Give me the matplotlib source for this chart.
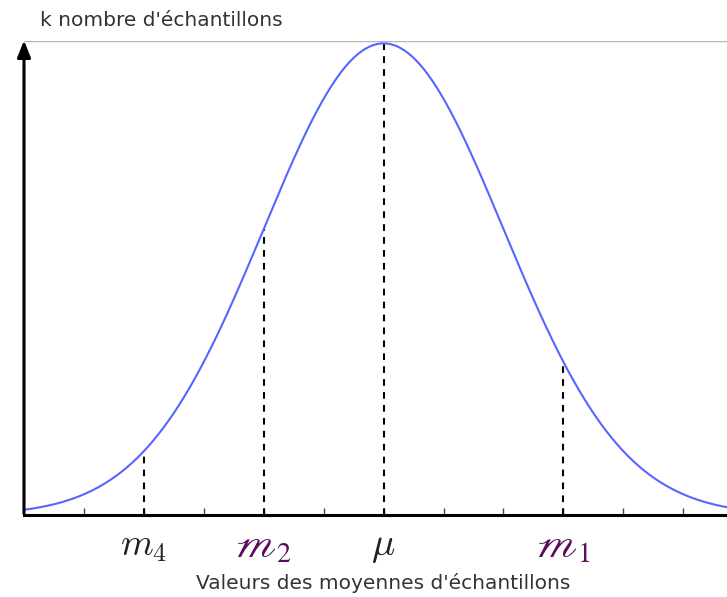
import numpy as np
import matplotlib.pyplot as plt

# distribution of sample means (units: one tick = 1)
mu = 0.0
sigma = 2.0
x_min, x_max = -6.0, 5.73

mark_pos = [-4, -2, 0, 3]
mark_labels = [r'$m_4$', r'$\mathscr{m}_2$', r'$\mu$', r'$\mathscr{m}_1$']
mark_colors = ['#222222', '#5c0a5c', '#222222', '#5c0a5c']
mark_fonts = ['cm', 'stix', 'cm', 'stix']
mark_sizes = [27, 29, 28, 29]

tick_pos = list(range(-5, 6))

ylabel = "k nombre d'échantillons"
xlabel = "Valeurs des moyennes d'échantillons"


def density(v):
    return np.exp(-(np.asarray(v) - mu) ** 2 / (2 * sigma ** 2))


plt.rcParams['lines.scale_dashes'] = False

fig = plt.figure(figsize=(7.27, 5.97), dpi=100)
ax = fig.add_axes([24 / 727, 82 / 597, 703 / 727, 474 / 597])

xs = np.linspace(x_min, x_max, 400)
ax.plot(xs, density(xs), color='#5566ff', lw=1.5, clip_on=False, zorder=3)

ax.vlines(mark_pos, 0, density(mark_pos), colors='black', lw=1.5,
          linestyles=(0, (4.8, 4.5)), zorder=2)

ax.axhline(1.005, color='#b5b5b5', lw=1.0)

ax.set_xlim(x_min, x_max)
ax.set_ylim(0, 1.005)

for s in ['top', 'right', 'left']:
    ax.spines[s].set_visible(False)
ax.spines['bottom'].set_linewidth(2.2)

ax.set_xticks(tick_pos)
ax.set_xticklabels([])
ax.set_yticks([])
ax.tick_params(axis='x', direction='in', length=5, width=1, color='#444444')

# y arrow
ax.annotate('', xy=(x_min, 1.012), xytext=(x_min, -0.003),
            arrowprops=dict(arrowstyle='-|>,head_width=0.4,head_length=1.0',
                            color='black', lw=2.2),
            annotation_clip=False)

for p, lab, c, f, fs in zip(mark_pos, mark_labels, mark_colors, mark_fonts, mark_sizes):
    ax.text(p, -0.066, lab, ha='center', va='center', fontsize=fs, color=c,
            math_fontfamily=f, transform=ax.get_xaxis_transform())

fig.text(40 / 727, 1 - 20 / 597, ylabel, ha='left', va='center',
         fontsize=14.5, color='#333333')
fig.text(383 / 727, 1 - 583 / 597, xlabel, ha='center', va='center',
         fontsize=14.5, color='#333333')

fig.savefig('out.png', dpi=100)
